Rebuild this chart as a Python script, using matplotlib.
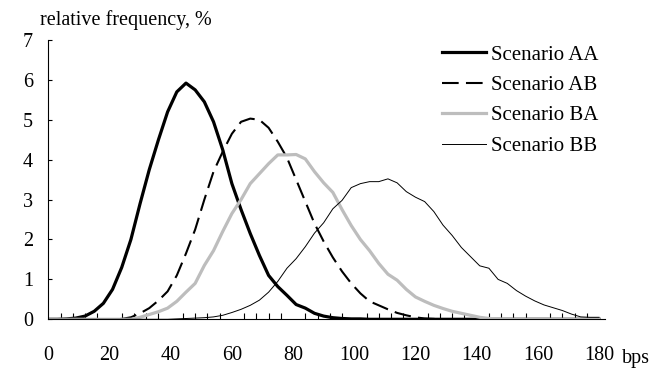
import numpy as np
import matplotlib.pyplot as plt
from matplotlib.ticker import MultipleLocator

plt.rcParams['font.family'] = ['Liberation Serif', 'DejaVu Serif']

# bps grid, every 3 bps
bps = np.arange(0, 181, 3)

aa = [0, 0, 0.01, 0.03, 0.08, 0.2, 0.4, 0.75, 1.3, 2.0,
      2.9, 3.75, 4.5, 5.2, 5.7, 5.92, 5.75, 5.45, 4.95, 4.25,
      3.4, 2.75, 2.15, 1.6, 1.1, 0.82, 0.6, 0.37, 0.28, 0.15,
      0.08, 0.04, 0.02, 0.01, 0.01, 0, 0, 0, 0, 0,
      0, 0, 0, 0, 0, 0, 0, 0, 0, 0,
      0, 0, 0, 0, 0, 0, 0, 0, 0, 0, 0]
ab = [0, 0, 0, 0, 0, 0, 0, 0, 0.01, 0.05,
      0.15, 0.28, 0.47, 0.7, 1.1, 1.65, 2.25, 3.0, 3.7, 4.2,
      4.65, 4.95, 5.03, 5.0, 4.8, 4.45, 4.05, 3.5, 2.95, 2.4,
      1.95, 1.55, 1.2, 0.9, 0.65, 0.45, 0.35, 0.25, 0.16, 0.1,
      0.05, 0.02, 0.01, 0, 0, 0, 0, 0, 0, 0,
      0, 0, 0, 0, 0, 0, 0, 0, 0, 0, 0]
ba = [0, 0, 0, 0, 0, 0, 0, 0, 0, 0,
      0.05, 0.12, 0.19, 0.28, 0.45, 0.68, 0.9, 1.35, 1.72, 2.2,
      2.65, 3.0, 3.4, 3.65, 3.9, 4.12, 4.12, 4.13, 4.02, 3.7,
      3.42, 3.18, 2.75, 2.35, 2.0, 1.72, 1.4, 1.13, 0.98, 0.75,
      0.56, 0.45, 0.35, 0.27, 0.2, 0.15, 0.1, 0.05, 0.02, 0.01,
      0, 0, 0, 0, 0, 0, 0, 0, 0, 0, 0]
bb = [0, 0, 0, 0, 0, 0, 0, 0, 0, 0,
      0, 0, 0, 0, 0.01, 0.02, 0.03, 0.04, 0.06, 0.1,
      0.17, 0.25, 0.35, 0.48, 0.68, 0.95, 1.28, 1.52, 1.82, 2.16,
      2.42, 2.77, 2.98, 3.3, 3.4, 3.45, 3.45, 3.52, 3.42, 3.2,
      3.06, 2.95, 2.7, 2.36, 2.1, 1.8, 1.57, 1.34, 1.28, 1.0,
      0.9, 0.72, 0.58, 0.46, 0.36, 0.29, 0.22, 0.13, 0.06, 0.05, 0.05]

labels = ['Scenario AA', 'Scenario AB', 'Scenario BA', 'Scenario BB']

fs = 14.5

fig = plt.figure(figsize=(6.66, 3.69), dpi=100)
ax = fig.add_axes([0.0725, 0.1347, 0.8362, 0.7569])

ax.plot(bps, aa, color='black', lw=2.3, label=labels[0])
ax.plot(bps, ab, color='black', lw=1.5, dashes=(8, 3.5), label=labels[1])
ax.plot(bps, ba, color='#bdbdbd', lw=2.3, label=labels[2])
ax.plot(bps, bb, color='black', lw=0.7, label=labels[3])

ax.set_xlim(0, 182)
ax.set_ylim(0, 7)
for s in ['top', 'right']:
    ax.spines[s].set_visible(False)
for s in ['left', 'bottom']:
    ax.spines[s].set_linewidth(0.8)

ax.set_xticks(np.arange(0, 181, 20))
ax.xaxis.set_minor_locator(MultipleLocator(4))
ax.tick_params(axis='x', which='major', length=0, pad=19, labelsize=fs)
ax.tick_params(axis='x', which='minor', direction='in', length=4, width=0.8)
ax.set_yticks(range(0, 8))
ax.tick_params(axis='y', direction='in', length=3, width=0.8, pad=11, labelsize=fs)

fig.text(40 / 666, 1 - 20 / 369, 'relative frequency, %', fontsize=fs,
         ha='left', va='center')
fig.text(622 / 666, 1 - 358 / 369, 'bps', fontsize=fs, ha='left', va='center')

ax.legend(loc='upper left', bbox_to_anchor=(442 / 666, 1 - 45 / 369),
          bbox_transform=fig.transFigure, frameon=False, fontsize=15,
          handlelength=2.1, handletextpad=0.25, labelspacing=0.52,
          borderpad=0, borderaxespad=0)

fig.savefig('out.png', dpi=100)
